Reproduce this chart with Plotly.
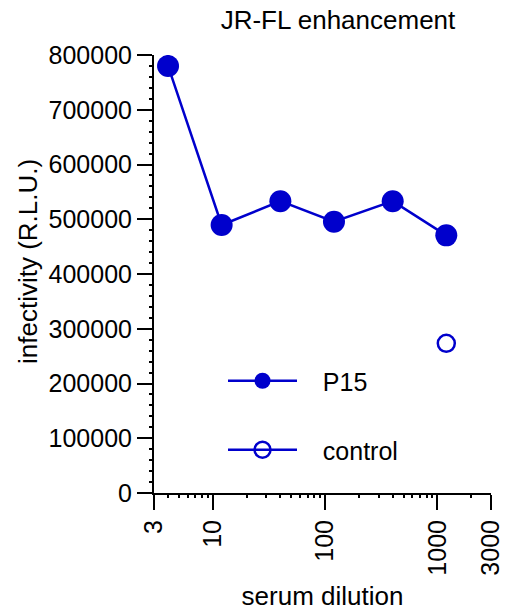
import plotly.graph_objects as go

dilution = [4, 12, 40, 120, 400, 1200]
p15 = [780000, 489500, 533000, 495500, 533000, 470600]
control_dilution = [1200]
control = [273400]

x_tickvals = [3, 10, 100, 1000, 3000]
x_ticktext = ["3", "10", "100", "1000", "3000"]
y_tickvals = [0, 100000, 200000, 300000, 400000, 500000, 600000, 700000, 800000]

BLUE = "#0000cc"
FONT = "Arial, Liberation Sans, sans-serif"
PAD = "\u00a0\u00a0\u00a0"

fig = go.Figure()
fig.add_trace(go.Scatter(
    x=dilution, y=p15, name=PAD + "P15", mode="lines+markers",
    line=dict(color=BLUE, width=2.5),
    marker=dict(symbol="circle", size=22, color=BLUE),
    legend="legend",
))
fig.add_trace(go.Scatter(
    x=control_dilution, y=control, name=PAD + "control", mode="lines+markers",
    line=dict(color=BLUE, width=2.5),
    marker=dict(symbol="circle-open", size=17, color=BLUE, line=dict(width=2.5)),
    legend="legend2",
))

L, R, T, B = 154, 19, 55, 122
W, H = 510, 615
pw, ph = W - L - R, H - T - B

def py(pix):
    return (H - B - pix) / ph

def px(pix):
    return (pix - L) / pw

fig.update_layout(
    width=W, height=H,
    margin=dict(l=L, r=R, t=T, b=B),
    paper_bgcolor="white", plot_bgcolor="white",
    font=dict(family=FONT, size=25, color="black"),
    title=dict(text="JR-FL enhancement", x=px(338), xref="paper", xanchor="center",
               y=1 - 20 / H, yanchor="middle", font=dict(size=26)),
    showlegend=True,
    legend=dict(x=px(223), y=py(381), xanchor="left", yanchor="middle",
                bgcolor="rgba(0,0,0,0)", font=dict(size=25), itemwidth=69),
    legend2=dict(x=px(223), y=py(450), xanchor="left", yanchor="middle",
                 bgcolor="rgba(0,0,0,0)", font=dict(size=25), itemwidth=69),
)

fig.update_xaxes(
    type="log", range=[0.4771, 3.4771],
    tickmode="array", tickvals=x_tickvals, ticktext=x_ticktext, tickangle=-90,
    ticks="outside", ticklen=15, tickwidth=2, tickcolor="black",
    showline=True, linewidth=2, linecolor="black",
    showgrid=False, zeroline=False,
    minor=dict(dtick="D1", ticks="outside", ticklen=3, tickwidth=1.5, tickcolor="black", showgrid=False),
    title=dict(text="serum dilution", font=dict(size=26), standoff=12),
    automargin=False,
)
fig.update_yaxes(
    range=[0, 800000],
    tickmode="array", tickvals=y_tickvals, tickformat="d",
    ticks="outside", ticklen=15, tickwidth=2, tickcolor="black",
    showline=True, linewidth=2, linecolor="black",
    showgrid=False, zeroline=False,
    minor=dict(dtick=20000, ticks="outside", ticklen=3, tickwidth=1.5, tickcolor="black", showgrid=False),
    automargin=False,
)
fig.add_annotation(
    text="infectivity (R.L.U.)", textangle=-90,
    xref="paper", yref="paper", x=px(28), y=py(262),
    xanchor="center", yanchor="middle", showarrow=False,
    font=dict(size=26),
)

fig.write_html("out.html", config={"displayModeBar": False},
               post_script="document.body.style.margin='0px';")
